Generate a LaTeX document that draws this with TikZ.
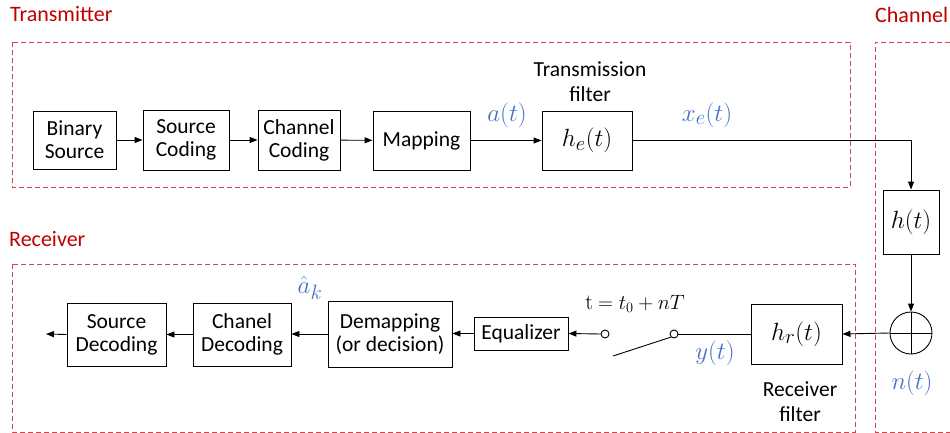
\documentclass[tikz,border=0pt]{standalone}
\usepackage{fontspec}
\setmainfont{Carlito}
\newfontfamily\serifrm{Latin Modern Roman}
\usetikzlibrary{arrows.meta}
\definecolor{dred}{RGB}{192,0,0}
\definecolor{dashred}{RGB}{214,70,70}
\definecolor{mblue}{RGB}{68,114,196}
\begin{document}
\begin{tikzpicture}[x=1pt,y=-1pt,
 blk/.style={draw, line width=0.9pt, inner sep=0pt, font=\fontsize{21.5}{23}\selectfont, align=center},
 mblk/.style={blk, font=\fontsize{28}{30}\selectfont},
 grp/.style={draw=dashred, dash pattern=on 5pt off 3pt, line width=0.9pt},
 lbl/.style={text=dred, font=\fontsize{22}{24}\selectfont, inner sep=0pt},
 sig/.style={text=mblue, font=\fontsize{28}{30}\selectfont, inner sep=0pt},
 captxt/.style={font=\fontsize{21.5}{25}\selectfont, align=center, inner sep=0pt},
 arr/.style={-{Triangle[length=8pt,width=6pt]}, line width=0.9pt},
 ln/.style={line width=0.9pt},
 term/.style={circle, draw, fill=white, line width=0.9pt, minimum size=8pt, inner sep=0pt}]
\useasboundingbox (0,0) rectangle (950,433);
% group frames
\draw[grp] (12,42) rectangle (850,187);
\draw[grp] (950,42) -- (875,42) -- (875,432) -- (950,432);
\draw[grp] (12,264) rectangle (855,432);
\node[lbl, anchor=west] (ttx) at (10,14) {Transmitter};
\node[lbl, anchor=west] (tch) at (875,15) {Channel};
\node[lbl, anchor=west] (trx) at (9,239) {Receiver};
% transmitter
\node[blk, minimum width=83pt, minimum height=58pt] (bs) at (74.5,140) {Binary\\Source};
\node[blk, minimum width=86pt, minimum height=60pt] (sc) at (186,140) {Source\\Coding};
\node[blk, minimum width=82pt, minimum height=60pt] (cc) at (299,140) {Channel\\Coding};
\node[blk, minimum width=97pt, minimum height=59pt] (mp) at (421.5,140.5) {Mapping};
\node[mblk, minimum width=90pt, minimum height=59pt] (he) at (587,140.5) {$h_e(t)$};
\node[captxt] (tf) at (590,82) {Transmission\\filter};
\node[sig] (at) at (507,115) {$a(t)$};
\node[sig] (xe) at (707,115) {$x_e(t)$};
\draw[arr] (bs) -- (sc);
\draw[arr] (sc) -- (cc);
\draw[arr] (cc) -- (mp);
\draw[arr] (mp.east) -- (he.west |- mp.east);
% channel
\node[mblk, minimum width=56pt, minimum height=64pt] (h) at (911,222) {$h(t)$};
\node[circle, draw, line width=0.9pt, minimum size=42pt, inner sep=0pt] (sum) at (911,333) {};
\draw[ln] (sum.north) -- (sum.south);
\draw[ln] (sum.west) -- (sum.east);
\node[sig] (nt) at (912,383) {$n(t)$};
\draw[arr] (he.east) -| (h.north);
\draw[arr] (h.south) -- (sum.north);
% receiver
\node[mblk, minimum width=91pt, minimum height=60pt] (hr) at (796.5,334) {$h_r(t)$};
\node[captxt] (rf) at (800,402) {Receiver\\filter};
\draw[arr] (sum.west) -- (hr.east);
\node[term] (s1) at (674,334) {};
\node[term] (s2) at (605,334) {};
\coordinate (blade) at (613,356);
\draw[ln] (hr.west) -- (s1.east);
\draw[ln] (s1.south west) -- (blade);
\node[font=\fontsize{22}{24}\selectfont, inner sep=0pt] (samp) at (635,304) {{\serifrm t} $=t_0+nT$};
\node[sig] (yt) at (715,353) {$y(t)$};
\node[blk, minimum width=94pt, minimum height=33pt] (eq) at (521,333.5) {Equalizer};
\draw[arr] (s2.west) -- (eq.east);
\node[blk, minimum width=124pt, minimum height=66pt] (dm) at (390,334) {Demapping\\(or decision)};
\draw[arr] (eq.west) -- (eq.west -| dm.east);
\node[blk, minimum width=98pt, minimum height=63pt] (cd) at (242,334.5) {Chanel\\Decoding};
\node[blk, minimum width=99pt, minimum height=63pt] (sd) at (116.5,334.5) {Source\\Decoding};
\node[sig] (ak) at (310,288) {$\hat{a}_k$};
\coordinate (out) at (46,334);
\draw[arr] (dm.west) -- (dm.west -| cd.east);
\draw[arr] (cd.west) -- (cd.west -| sd.east);
\draw[arr] (sd.west) -- (out);
\end{tikzpicture}
\end{document}
